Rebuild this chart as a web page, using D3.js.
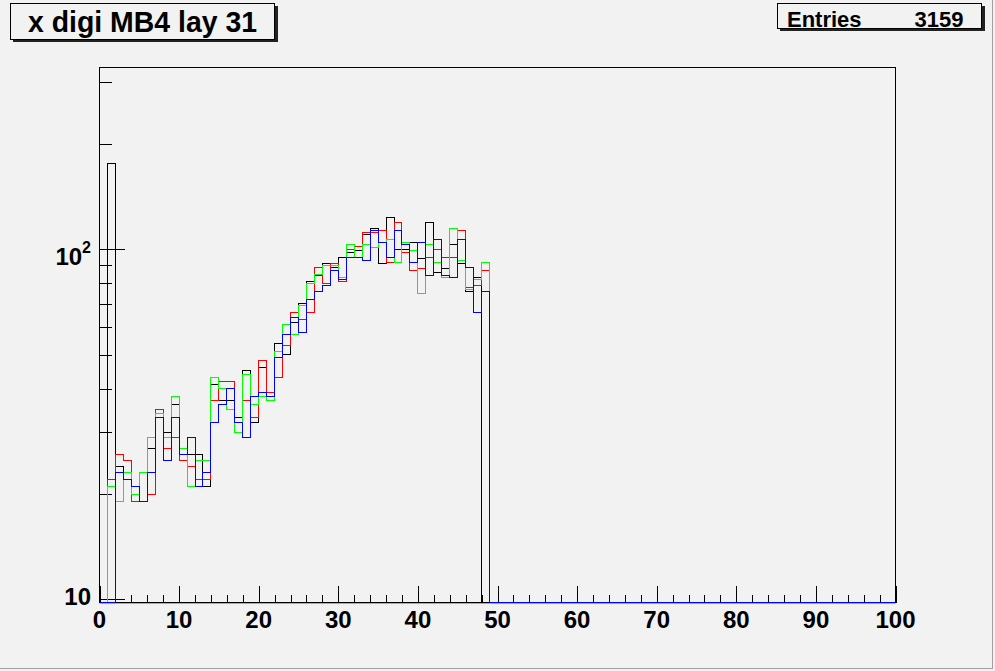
<!DOCTYPE html>
<html><head><meta charset="utf-8">
<script src="https://cdn.jsdelivr.net/npm/d3@7"></script>
<style>
body{margin:0;background:#f2f2f2}
svg{display:block}
text{font-family:"Liberation Sans",Arial,Helvetica,sans-serif;font-weight:bold;fill:#000}
</style>
</head><body>
<svg id="c" width="995" height="671"></svg>
<script>
// ---- data (bin low edges, counts per layer) ----
const binLow = [0,1,2,3,4,5,6,7,8,9,10,11,12,13,14,15,16,17,18,19,20,21,22,23,24,25,26,27,28,29,30,31,32,33,34,35,36,37,38,39,40,41,42,43,44,45,46,47,48,49];
const binWidth = 1;
const black = [0,176,24,23,19,19,27,34,30,36,26,26,26,21,41,37,37,33,45,32,46,38,54,50,62,70,81,84,91,89,95,98,99,110,115,91,123,100,100,105,94,119,86,88,103,91,76,83,0,0];
const red   = [0,22,26,25,19,19,20,35,27,29,25,24,22,22,37,42,42,32,37,33,48,39,43,53,66,63,66,89,80,91,81,100,102,112,112,113,92,119,98,87,88,95,100,95,95,113,78,79,87,0];
const green = [0,21,19,23,20,23,29,34,29,38,27,21,25,25,43,40,35,30,44,36,38,37,51,61,57,69,80,85,90,90,83,103,95,103,101,105,107,92,105,99,75,103,92,83,115,93,77,82,92,0];
const blue  = [0,0,23,22,21,19,23,33,25,33,26,29,21,23,32,36,40,32,29,38,39,38,49,57,64,58,72,76,79,87,82,95,95,93,113,105,95,113,103,92,105,84,107,84,83,107,89,66,76,0];
const xMajor = [0,10,20,30,40,50,60,70,80,90,100];
const xMinor = [2,4,6,8,12,14,16,18,22,24,26,28,32,34,36,38,42,44,46,48,52,54,56,58,62,64,66,68,72,74,76,78,82,84,86,88,92,94,96,98];
const yMajor = [10,100];
const yMinor = [20,30,40,50,60,70,80,90,200,300];
const titleText = "x digi MB4 lay 31";
const entriesLabel = "Entries";
const entriesValue = "3159";

const series = [
  {vals: black, color: "#000000"},
  {vals: red,   color: "#ff0000"},
  {vals: green, color: "#00ff00"},
  {vals: blue,  color: "#0000ff"}
];

const svg = d3.select("#c");
const L = 99.5, R = 895.5, T = 67.5, B = 602.5;
const x = d3.scaleLinear().domain([0,100]).range([L, R]);
const y = d3.scaleLog().domain([9.8, 331]).range([B, T]);
const snap = v => Math.floor(v) + 0.5;

// canvas border
svg.append("line").attr("x1",992.5).attr("x2",992.5).attr("y1",0).attr("y2",669).attr("stroke","#a0a0a0");
svg.append("line").attr("x1",0).attr("x2",993).attr("y1",668.5).attr("y2",668.5).attr("stroke","#a0a0a0");

// under-axis light line
svg.append("line").attr("x1",L).attr("x2",R).attr("y1",B+1).attr("y2",B+1).attr("stroke","#a8a8a8");

// frame
svg.append("rect").attr("x",L).attr("y",T).attr("width",R-L).attr("height",B-T)
  .attr("fill","none").attr("stroke","#000");

// x axis ticks
const gx = svg.append("g").attr("transform",`translate(0,${B})`);
gx.append("g").call(d3.axisBottom(x).tickValues(xMajor).tickSizeInner(-17).tickSizeOuter(0).tickFormat(""))
  .call(g => g.select(".domain").remove());
gx.append("g").call(d3.axisBottom(x).tickValues(xMinor).tickSizeInner(-8).tickSizeOuter(0).tickFormat(""))
  .call(g => g.select(".domain").remove());
gx.selectAll("line").attr("stroke","#000").attr("shape-rendering","crispEdges");
svg.append("g").selectAll("text").data(xMajor).join("text")
  .attr("x", d => x(d)).attr("y", 628).attr("text-anchor","middle")
  .attr("font-size", 24).text(d => d);

// y axis ticks
const gy = svg.append("g").attr("transform",`translate(${L},0)`);
gy.append("g").call(d3.axisLeft(y).tickValues(yMajor).tickSizeInner(-25).tickSizeOuter(0).tickFormat(""))
  .call(g => g.select(".domain").remove());
gy.append("g").call(d3.axisLeft(y).tickValues(yMinor).tickSizeInner(-12).tickSizeOuter(0).tickFormat(""))
  .call(g => g.select(".domain").remove());
gy.selectAll("line").attr("stroke","#000").attr("shape-rendering","crispEdges");
yMajor.forEach(v => {
  const e = Math.round(Math.log10(v));
  if (e === 1) {
    svg.append("text").attr("x", 91).attr("y", y(v) + 6).attr("text-anchor","end")
      .attr("font-size", 24).text("10");
  } else {
    const t = svg.append("text").attr("x", 91).attr("y", y(v) + 16).attr("text-anchor","end").attr("font-size", 24);
    t.append("tspan").text("10");
    t.append("tspan").attr("dy", -12).attr("font-size", 16).text(e);
  }
});

// histograms
const line = d3.line();
series.forEach(s => {
  const pts = [];
  s.vals.forEach((v, i) => {
    const yy = v > 0 ? snap(y(v)) : B;
    pts.push([snap(x(binLow[i])), yy]);
    pts.push([snap(x(binLow[i] + binWidth)), yy]);
  });
  pts.push([snap(x(100)) - 1, B]);
  svg.append("path").attr("d", line(pts)).attr("fill","none")
    .attr("stroke", s.color).attr("stroke-width", 1).attr("shape-rendering","crispEdges");
});

// title box
svg.append("rect").attr("x",13).attr("y",6).attr("width",265).attr("height",36).attr("fill","#222");
svg.append("rect").attr("x",10.5).attr("y",3.5).attr("width",264).attr("height",36)
  .attr("fill","#f2f2f2").attr("stroke","#000");
svg.append("text").attr("x",142.5).attr("y",32).attr("text-anchor","middle")
  .attr("font-size",29).attr("textLength",229).attr("lengthAdjust","spacingAndGlyphs").text(titleText);

// stats box
svg.append("rect").attr("x",780).attr("y",6).attr("width",205).attr("height",25).attr("fill","#222");
svg.append("rect").attr("x",777.5).attr("y",3.5).attr("width",204).attr("height",25)
  .attr("fill","#f2f2f2").attr("stroke","#000");
svg.append("text").attr("x",787).attr("y",26.5).attr("font-size",22).text(entriesLabel);
svg.append("text").attr("x",963.5).attr("y",26.5).attr("text-anchor","end").attr("font-size",22).text(entriesValue);
</script>
</body></html>
